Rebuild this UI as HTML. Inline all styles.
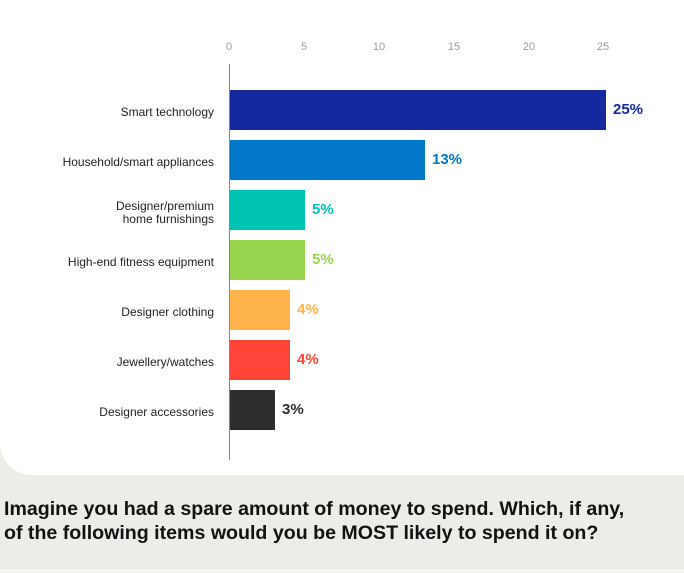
<!DOCTYPE html>
<html><head><style>
body{margin:0;width:684px;height:573px;background:#eeece8;font-family:"Liberation Sans",sans-serif;overflow:hidden;position:relative}
.card{position:absolute;left:0;top:0;width:684px;height:475px;background:#fff;border-bottom-left-radius:32px}
.t{position:absolute;top:41px;font-size:11px;color:#999;width:30px;margin-left:-15px;text-align:center}
.ax{position:absolute;left:229px;top:64px;width:1px;height:396px;background:#888}
.bar{position:absolute;left:230px;height:40px}
.lab{position:absolute;right:470px;font-size:12px;color:#222;text-align:right;line-height:13px;white-space:nowrap}
.v{position:absolute;font-size:15px;font-weight:bold;line-height:40px}
.q{position:absolute;left:4px;top:497px;font-size:19.6px;font-weight:bold;color:#111;line-height:24px;white-space:nowrap}
.strip{position:absolute;left:0;top:569px;width:684px;height:4px;background:#f6f5f2}
</style></head><body>
<div class="card"></div>
<div class="t" style="left:229px">0</div>
<div class="t" style="left:304px">5</div>
<div class="t" style="left:379px">10</div>
<div class="t" style="left:454px">15</div>
<div class="t" style="left:529px">20</div>
<div class="t" style="left:603px">25</div>
<div class="ax"></div>

<div class="bar" style="top:90px;width:376px;background:#1428a0"></div>
<div class="v" style="top:90px;left:613px;color:#1428a0">25%</div>
<div class="lab" style="top:106px">Smart technology</div>

<div class="bar" style="top:140px;width:195px;background:#0077c8"></div>
<div class="v" style="top:140px;left:432px;color:#0077c8">13%</div>
<div class="lab" style="top:156px">Household/smart appliances</div>

<div class="bar" style="top:190px;width:75px;background:#00c4b3"></div>
<div class="v" style="top:190px;left:312px;color:#00c4b3">5%</div>
<div class="lab" style="top:200px">Designer/premium<br>home furnishings</div>

<div class="bar" style="top:240px;width:75px;background:#97d54f"></div>
<div class="v" style="top:240px;left:312px;color:#97d54f">5%</div>
<div class="lab" style="top:256px">High-end fitness equipment</div>

<div class="bar" style="top:290px;width:60px;background:#ffb34a"></div>
<div class="v" style="top:290px;left:297px;color:#ffb34a">4%</div>
<div class="lab" style="top:306px">Designer clothing</div>

<div class="bar" style="top:340px;width:60px;background:#ff4438"></div>
<div class="v" style="top:340px;left:297px;color:#ff4438">4%</div>
<div class="lab" style="top:356px">Jewellery/watches</div>

<div class="bar" style="top:390px;width:45px;background:#2d2d2d"></div>
<div class="v" style="top:390px;left:282px;color:#2d2d2d">3%</div>
<div class="lab" style="top:406px">Designer accessories</div>

<div class="q">Imagine you had a spare amount of money to spend. Which, if any,<br>of the following items would you be MOST likely to spend it on?</div>
<div class="strip"></div>
</body></html>
